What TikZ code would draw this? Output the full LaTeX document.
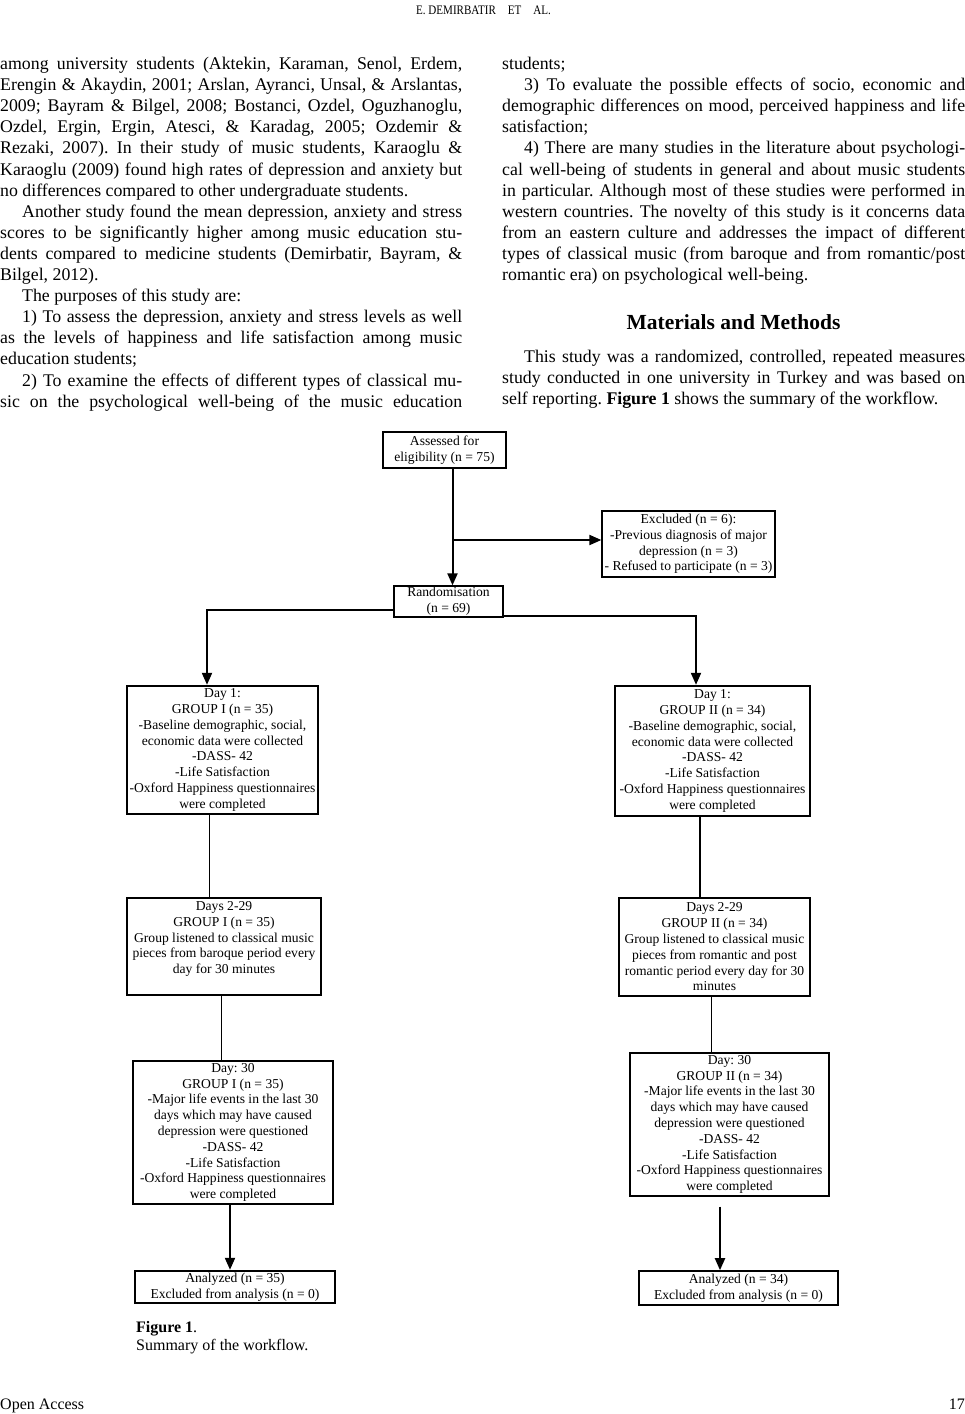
\documentclass[tikz,border=0pt]{standalone}
\usepackage{fontspec}
\setmainfont{Liberation Serif}
\usepackage{graphicx}
\usetikzlibrary{arrows.meta}
\frenchspacing
\newcommand{\bodyfont}{\fontsize{17.8}{21.1}\selectfont}
\newcommand{\flowfont}{\fontsize{13.6}{15.8}\selectfont}
\newcommand{\JL}[5]{\node[txt] (#1) at (#2,#3) {\makebox[#4pt][s]{#5}};}
\newcommand{\LL}[4]{\node[txt] (#1) at (#2,#3) {#4};}
\newcommand{\bxc}[3]{\parbox[c][#2pt][c]{#1pt}{\centering #3\par}}
\newcommand{\bxt}[4]{\parbox[c][#2pt][t]{#1pt}{\centering\vspace*{#3pt}#4\par}}
\tikzset{
 txt/.style={anchor=base west, inner sep=0pt, font=\bodyfont},
 boxthin/.style={draw, inner sep=0pt, line width=1.3pt, font=\flowfont},
 boxthick/.style={draw, inner sep=0pt, line width=2.4pt, font=\flowfont},
 conthin/.style={line width=1pt},
 conthick/.style={line width=2pt},
 arr/.style={-{Triangle[length=12pt,width=10pt]}},
}
\begin{document}
\frenchspacing
\begin{tikzpicture}[x=1pt,y=-1pt]
\useasboundingbox (0,0) rectangle (965,1414);
\fill[white] (0,0) rectangle (965,1414);
% header / footer
\node[anchor=base, inner sep=0pt, font=\fontsize{13}{15}\selectfont] (hdr) at (483.5,14.5) {\scalebox{0.85}[1]{E. DEMIRBATIR\hspace{14pt}ET\hspace{14pt}AL.}};
\node[anchor=base west, inner sep=0pt, font=\fontsize{16}{18}\selectfont] (ftl) at (0,1409) {Open Access};
\node[anchor=base east, inner sep=0pt, font=\fontsize{16}{18}\selectfont] (ftr) at (965,1409) {17};
% left column
\JL{l1}{0}{69.5}{462}{among university students (Aktekin, Karaman, Senol, Erdem,}
\JL{l2}{0}{90.6}{462}{Erengin \& Akaydin, 2001; Arslan, Ayranci, Unsal, \& Arslantas,}
\JL{l3}{0}{111.7}{462}{2009; Bayram \& Bilgel, 2008; Bostanci, Ozdel, Oguzhanoglu,}
\JL{l4}{0}{132.8}{462}{Ozdel, Ergin, Ergin, Atesci, \& Karadag, 2005; Ozdemir \&}
\JL{l5}{0}{153.9}{462}{Rezaki, 2007). In their study of music students, Karaoglu \&}
\JL{l6}{0}{175.0}{462}{Karaoglu (2009) found high rates of depression and anxiety but}
\LL{l7}{0}{196.1}{no differences compared to other undergraduate students.}
\JL{l8}{22}{217.2}{440}{Another study found the mean depression, anxiety and stress}
\JL{l9}{0}{238.3}{462}{scores to be significantly higher among music education stu-}
\JL{l10}{0}{259.4}{462}{dents compared to medicine students (Demirbatir, Bayram, \&}
\LL{l11}{0}{280.5}{Bilgel, 2012).}
\LL{l12}{22}{301.6}{The purposes of this study are:}
\JL{l13}{22}{322.7}{440}{1) To assess the depression, anxiety and stress levels as well}
\JL{l14}{0}{343.8}{462}{as the levels of happiness and life satisfaction among music}
\LL{l15}{0}{364.9}{education students;}
\JL{l16}{22}{386.0}{440}{2) To examine the effects of different types of classical mu-}
\JL{l17}{0}{407.1}{462}{sic on the psychological well-being of the music education}
% right column
\LL{r1}{502}{69.5}{students;}
\JL{r2}{524}{90.6}{441}{3) To evaluate the possible effects of socio, economic and}
\JL{r3}{502}{111.7}{463}{demographic differences on mood, perceived happiness and life}
\LL{r4}{502}{132.8}{satisfaction;}
\JL{r5}{524}{153.9}{441}{4) There are many studies in the literature about psychologi-}
\JL{r6}{502}{175.0}{463}{cal well-being of students in general and about music students}
\JL{r7}{502}{196.1}{463}{in particular. Although most of these studies were performed in}
\JL{r8}{502}{217.2}{463}{western countries. The novelty of this study is it concerns data}
\JL{r9}{502}{238.3}{463}{from an eastern culture and addresses the impact of different}
\JL{r10}{502}{259.4}{463}{types of classical music (from baroque and from romantic/post}
\LL{r11}{502}{280.5}{romantic era) on psychological well-being.}
\node[anchor=base, inner sep=0pt, font=\fontsize{21.5}{25}\selectfont\bfseries] (head) at (733.5,329) {Materials and Methods};
\JL{r12}{524}{362.0}{441}{This study was a randomized, controlled, repeated measures}
\JL{r13}{502}{383.1}{463}{study conducted in one university in Turkey and was based on}
\LL{r14}{502}{404.2}{self reporting. \textbf{Figure 1} shows the summary of the workflow.}
% flowchart boxes
\node[boxthin] (assess) at (444.5,450) {\bxc{123}{36}{Assessed for\\eligibility (n = 75)}};
\node[boxthin] (excl) at (688.5,544) {\bxc{173}{66}{Excluded (n = 6):\\-Previous diagnosis of major\\depression (n = 3)\\- Refused to participate (n = 3)}};
\node[boxthin] (rand) at (448.5,601.5) {\bxc{109}{31}{Randomisation\\(n = 69)}};
\node[boxthick] (d1a) at (222.5,750) {\bxc{191}{128}{Day 1:\\GROUP I (n = 35)\\-Baseline demographic, social,\\economic data were collected\\-DASS- 42\\-Life Satisfaction\\-Oxford Happiness questionnaires\\were completed}};
\node[boxthick] (d1b) at (712.5,751) {\bxc{195}{130}{Day 1:\\GROUP II (n = 34)\\-Baseline demographic, social,\\economic data were collected\\-DASS- 42\\-Life Satisfaction\\-Oxford Happiness questionnaires\\were completed}};
\node[boxthin, line width=1.1pt] (d2a) at (224,946.5) {\bxt{194}{97}{3.5}{Days 2-29\\GROUP I (n = 35)\\Group listened to classical music\\pieces from baroque period every\\day for 30 minutes}};
\node[boxthin] (d2b) at (714.5,947) {\bxc{191}{98}{Days 2-29\\GROUP II (n = 34)\\Group listened to classical music\\pieces from romantic and post\\romantic period every day for 30\\minutes}};
\node[boxthick] (d3a) at (233,1132.5) {\bxc{200}{143}{Day: 30\\GROUP I (n = 35)\\-Major life events in the last 30\\days which may have caused\\depression were questioned\\-DASS- 42\\-Life Satisfaction\\-Oxford Happiness questionnaires\\were completed}};
\node[boxthin, line width=1.1pt] (d3b) at (729.5,1124.5) {\bxc{199}{143}{Day: 30\\GROUP II (n = 34)\\-Major life events in the last 30\\days which may have caused\\depression were questioned\\-DASS- 42\\-Life Satisfaction\\-Oxford Happiness questionnaires\\were completed}};
\node[boxthick] (ana) at (235,1287) {\bxc{200}{32}{Analyzed (n = 35)\\Excluded from analysis (n = 0)}};
\node[boxthin, line width=1.6pt] (anb) at (738.5,1288) {\bxc{199}{34}{Analyzed (n = 34)\\Excluded from analysis (n = 0)}};
% connectors
\coordinate (br) at (452.5,540);
\draw[conthick,arr] ([xshift=8pt]assess.south) -- ([xshift=4pt]rand.north);
\draw[conthick,arr] (br) -- ([yshift=4pt]excl.west);
\draw[conthick,arr] ([yshift=-8.5pt]rand.west) -| ([xshift=-15.5pt]d1a.north);
\draw[conthick,arr] ([yshift=-14pt]rand.east) -| ([xshift=-16.5pt]d1b.north);
\draw[conthin] ([xshift=-13.5pt]d1a.south) -- ([xshift=-15pt]d2a.north);
\draw[conthick] ([xshift=-12.5pt]d1b.south) -- ([xshift=-14.5pt]d2b.north);
\draw[conthin] ([xshift=-3pt]d2a.south) -- ([xshift=-12pt]d3a.north);
\draw[conthin] ([xshift=-3.5pt]d2b.south) -- ([xshift=-18.5pt]d3b.north);
\draw[conthick,arr] ([xshift=-3pt]d3a.south) -- ([xshift=-5pt]ana.north);
\draw[conthick,arr] ([xshift=-9.5pt,yshift=-10pt]d3b.south) -- ([xshift=-18.5pt]anb.north);
% caption
\node[anchor=base west, inner sep=0pt, font=\fontsize{16}{18}\selectfont] (cap1) at (136,1332) {\textbf{Figure 1}.};
\node[anchor=base west, inner sep=0pt, font=\fontsize{16}{18}\selectfont] (cap2) at (136,1350) {Summary of the workflow.};
\end{tikzpicture}
\end{document}
